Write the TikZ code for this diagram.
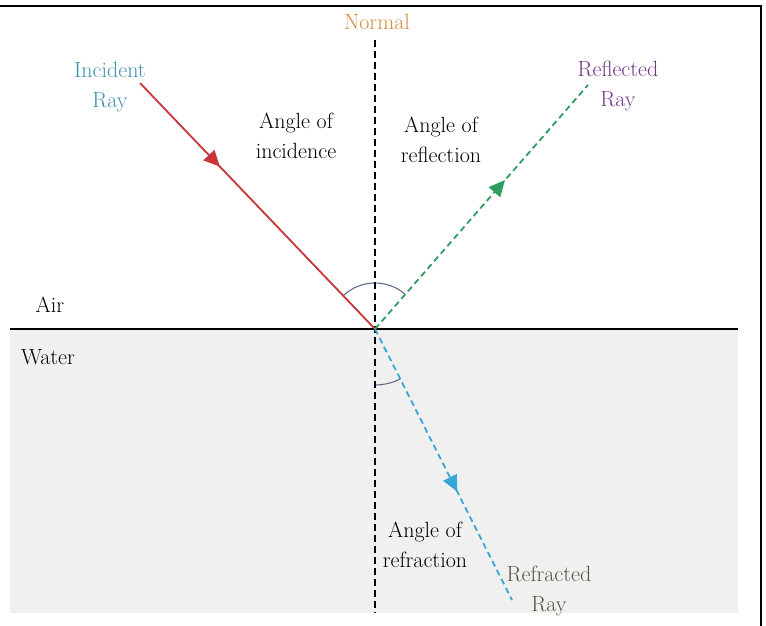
\documentclass[tikz,border=0pt]{standalone}
\usepackage{xcolor}
\usepackage{tikz}
\usetikzlibrary{arrows.meta,decorations.markings,angles}
\definecolor{incred}{HTML}{C8363A}
\definecolor{reflgreen}{HTML}{2E9E5E}
\definecolor{refrcyan}{HTML}{35A8D8}
\definecolor{normtan}{HTML}{D48A3E}
\definecolor{inclbl}{HTML}{3E93B3}
\definecolor{refllbl}{HTML}{73368A}
\definecolor{refrlbl}{HTML}{55553F}
\definecolor{arcgray}{HTML}{5C6E8A}
\definecolor{water}{HTML}{F0F0F0}
\tikzset{
  lbl/.style={align=center,font=\fontsize{22}{30}\selectfont,inner sep=0pt,text=black},
  midarrow/.style={postaction={decorate},decoration={markings,
    mark=at position #1 with {\arrow{Triangle[length=16pt,width=15pt]}}}},
  ray/.style={line width=1.8pt},
  dashray/.style={ray,dash pattern=on 6pt off 4pt},
  normline/.style={line width=1.8pt,dash pattern=on 7pt off 4pt},
  anglearc/.style={draw=arcgray,line width=1.1pt}
}
\begin{document}
\begin{tikzpicture}[x=1pt,y=1pt]
  \useasboundingbox (0,0) rectangle (766,626);
  % frame and water
  \fill[white] (0,0) rectangle (766,626);
  \draw[line width=1.8pt] (0,620) -- (761,620) -- (761,0);
  \fill[water] (10,13) rectangle (738,297);
  \coordinate (O) at (375,297);
  \coordinate (inc) at (140,543);
  \coordinate (refl) at (588,541);
  \coordinate (refr) at (512,26);
  \coordinate (ntop) at (375,586);
  \coordinate (nbot) at (375,13);
  \coordinate (sl) at (10,297);
  \coordinate (sr) at (738,297);
  % angles
  \pic[anglearc,angle radius=46pt] {angle=refl--O--inc};
  \pic[anglearc,angle radius=56pt] {angle=nbot--O--refr};
  % rays
  \draw[normline] (ntop) -- (nbot);
  \draw[line width=2.4pt] (sl) -- (sr);
  \draw[ray,incred,midarrow=0.34] (inc) -- (O);
  \draw[dashray,reflgreen,midarrow=0.61] (O) -- (refl);
  \draw[dashray,refrcyan,midarrow=0.6] (O) -- (refr);
  % labels
  \node[lbl,text=normtan] (nlbl) at (377,604) {Normal};
  \node[lbl,text=inclbl] (inclabel) at (110,539) {Incident\\Ray};
  \node[lbl,text=refllbl] (refllabel) at (618,540) {Reflected\\Ray};
  \node[lbl] (aincid) at (296,490) {Angle of\\incidence};
  \node[lbl] (arefl) at (441,486) {Angle of\\reflection};
  \node[lbl] (air) at (50,321) {Air};
  \node[lbl] (wat) at (48,269) {Water};
  \node[lbl] (arefr) at (425,81) {Angle of\\refraction};
  \node[lbl,text=refrlbl] (refrlabel) at (549,35) {Refracted\\Ray};
\end{tikzpicture}
\end{document}
